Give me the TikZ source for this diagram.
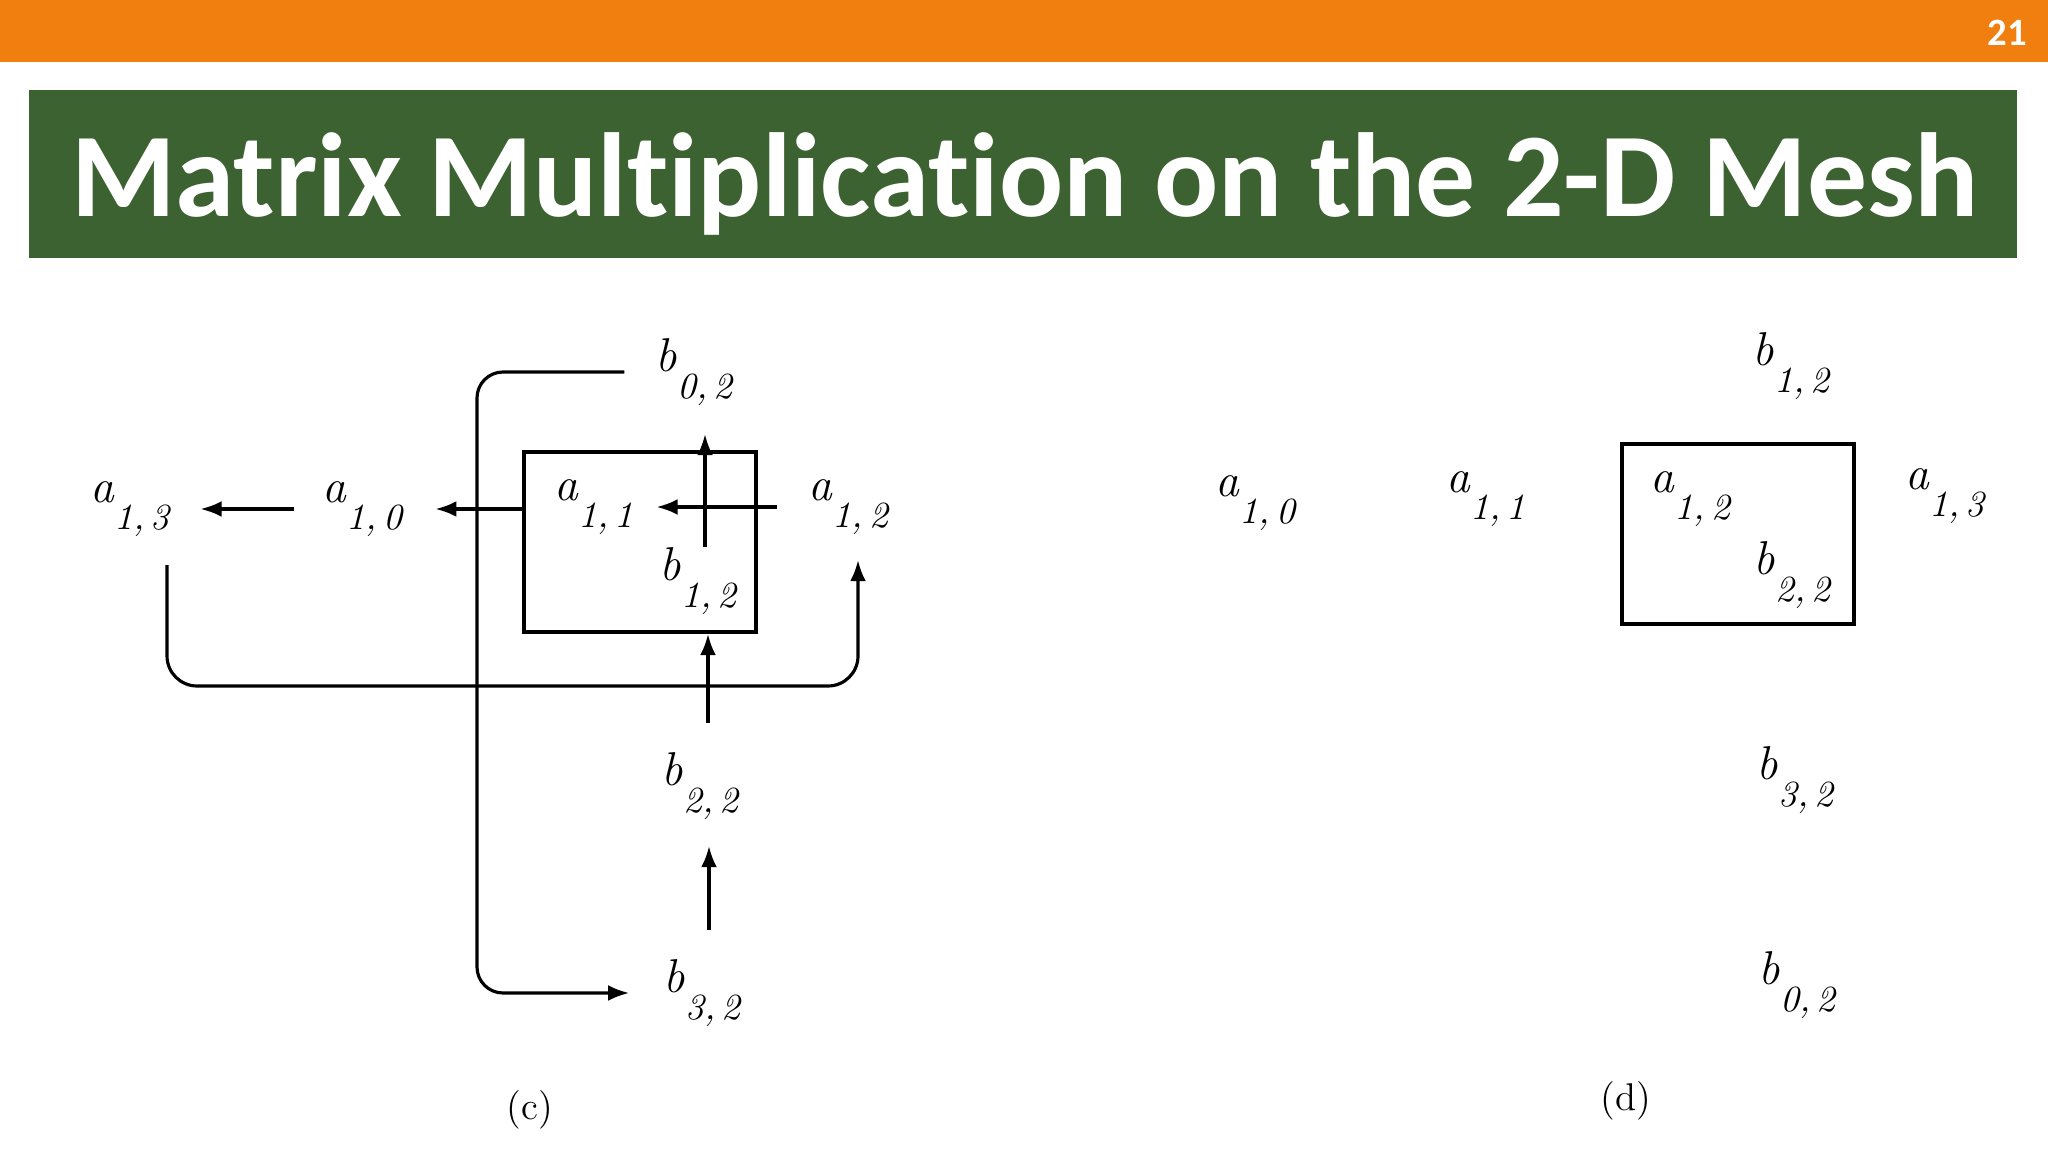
\documentclass[tikz,border=0pt]{standalone}
\usepackage{fontspec}
\newfontfamily\titlefont[Ligatures=NoCommon]{Carlito}
\usetikzlibrary{arrows.meta,positioning}

\definecolor{barorange}{HTML}{F07F0F}
\definecolor{titlegreen}{HTML}{3D6232}

% matrix element with its low index
\newcommand{\elem}[3]{{\fontsize{13.5}{14}\selectfont\textit{#1}}\raisebox{-0.72em}{\textit{#2,\,#3}}}

\begin{document}
\begin{tikzpicture}[x=0.01cm, y=-0.01cm,
    elem/.style={inner sep=0pt, font=\fontsize{10.5}{12}\selectfont},
    cell/.style={rectangle, draw, line width=1.1pt, minimum width=2.32cm, minimum height=1.8cm},
    arr/.style={line width=0.9pt, -{Latex[length=6pt,width=4.5pt]}},
    caption/.style={font=\fontsize{11}{13}\selectfont}
]
\useasboundingbox (0,0) rectangle (2048,1164);

% Header
\fill[barorange] (0,0) rectangle (2048,62);
\node[text=white, font=\titlefont\bfseries\fontsize{11}{13}\selectfont] (pagenum) at (2007,33) {21};
\node[fill=titlegreen, minimum width=19.86cm, minimum height=1.67cm, inner sep=0pt] (titlebar) at (1023,174) {};
\node[text=white, font=\titlefont\bfseries\fontsize{34}{40}\selectfont, anchor=base, inner sep=0pt] (title) at (1025,217) {Matrix Multiplication on the 2-D Mesh};

% (c) shifting step
\node[cell] (box1) at (640,542) {};
\node[elem] (a13) at (131,509) {\elem{a}{1}{3}};
\node[elem] (a10) at (363,509) {\elem{a}{1}{0}};
\node[elem] (a11) at (594,507) {\elem{a}{1}{1}};
\node[elem] (a12) at (849,507) {\elem{a}{1}{2}};
\node[elem] (b02) at (695,372) {\elem{b}{0}{2}};
\node[elem] (b12) at (699,581) {\elem{b}{1}{2}};
\node[elem] (b22) at (701,786) {\elem{b}{2}{2}};
\node[elem] (b32) at (703,993) {\elem{b}{3}{2}};
\coordinate (aturn) at (500,686);
\coordinate (bturn) at (477,700);

\draw[arr, shorten <=0.28cm, shorten >=0.28cm] (a10) -- (a13);
\draw[arr, shorten >=0.31cm] (box1.west |- a10) -- (a10);
\draw[arr, shorten <=0.31cm, shorten >=0.22cm] (a12) -- (a11);
\draw[arr, shorten >=0.28cm] ([xshift=0.06cm]b12.north) -- ([xshift=0.06cm]b12.north |- b02.south);
\draw[arr, shorten <=0.29cm] ([xshift=0.07cm]b22.north) -- ([xshift=0.07cm]b22.north |- box1.south);
\draw[arr, shorten <=0.29cm, shorten >=0.26cm] ([xshift=0.06cm]b32.north) -- ([xshift=0.06cm]b32.north |- b22.south);
% wrap-around links
\draw[arr, rounded corners=0.3cm, shorten <=0.28cm, shorten >=0.25cm] ([xshift=0.36cm]a13.south) |- (aturn) -| ([xshift=0.09cm]a12.south);
\draw[arr, rounded corners=0.26cm, shorten <=0.31cm, shorten >=0.34cm] (b02.west) -| (bturn) |- (b32.west);
\node[caption] (capc) at (530,1110) {(c)};

% (d) after the shift
\node[cell] (box2) at (1738,534) {};
\node[elem] (d10) at (1256,503) {\elem{a}{1}{0}};
\node[elem] (d11) at (1486,499) {\elem{a}{1}{1}};
\node[elem] (d12) at (1691,499) {\elem{a}{1}{2}};
\node[elem] (d13) at (1946,496) {\elem{a}{1}{3}};
\node[elem] (e12) at (1792,366) {\elem{b}{1}{2}};
\node[elem] (e22) at (1793,575) {\elem{b}{2}{2}};
\node[elem] (e32) at (1796,780) {\elem{b}{3}{2}};
\node[elem] (e02) at (1798,985) {\elem{b}{0}{2}};
\node[caption] (capd) at (1626,1101) {(d)};

\end{tikzpicture}
\end{document}
